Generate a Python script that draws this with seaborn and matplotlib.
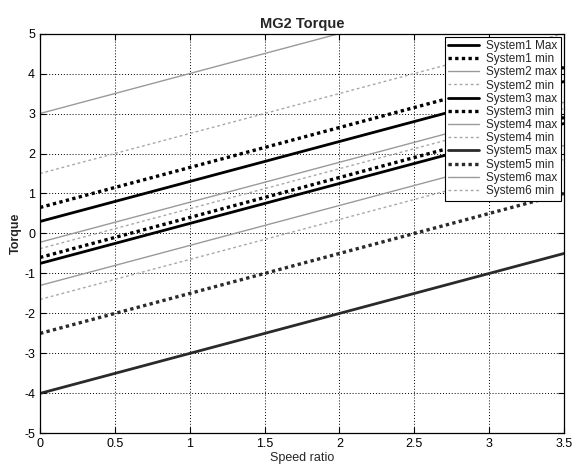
import pandas as pd
import matplotlib
matplotlib.use("Agg")
import matplotlib.pyplot as plt
import seaborn as sns

# 数据：各系统在 speed ratio = 0 和 3.5 处的扭矩
speed_ratio = [0.0, 3.5]
series_names = [
    'System1 Max', 'System1 min', 'System2 max', 'System2 min',
    'System3 max', 'System3 min', 'System4 max', 'System4 min',
    'System5 max', 'System5 min', 'System6 max', 'System6 min',
]
torque_start = [0.3, 0.65, 3.0, 1.5, -0.75, -0.6, -0.22, -0.38, -4.0, -2.5, -1.3, -1.65]
torque_end = [3.8, 4.15, 6.5, 5.0, 2.75, 2.9, 3.28, 3.12, -0.5, 1.0, 2.2, 1.85]

x_ticks = [0, 0.5, 1, 1.5, 2, 2.5, 3, 3.5]
y_ticks = [-5, -4, -3, -2, -1, 0, 1, 2, 3, 4, 5]

# 线型（颜色，线型，线宽）
line_styles = {
    'System1 Max': ('black', '-', 2.0),
    'System1 min': ('black', (0, (1, 1)), 2.4),
    'System2 max': ('#9a9a9a', '-', 1.0),
    'System2 min': ('#a8a8a8', (0, (2, 2)), 1.0),
    'System3 max': ('black', '-', 2.0),
    'System3 min': ('black', (0, (1, 1)), 2.4),
    'System4 max': ('#9a9a9a', '-', 1.0),
    'System4 min': ('#a8a8a8', (0, (2, 2)), 1.0),
    'System5 max': ('#2a2a2a', '-', 2.0),
    'System5 min': ('#2a2a2a', (0, (1, 1)), 2.4),
    'System6 max': ('#9a9a9a', '-', 1.0),
    'System6 min': ('#a8a8a8', (0, (2, 2)), 1.0),
}

rows = []
for name, y0, y1 in zip(series_names, torque_start, torque_end):
    rows.append({'series': name, 'speed_ratio': speed_ratio[0], 'torque': y0})
    rows.append({'series': name, 'speed_ratio': speed_ratio[1], 'torque': y1})
df = pd.DataFrame(rows)

sns.set_style("ticks")
plt.rcParams['font.family'] = ['Liberation Sans', 'DejaVu Sans']
plt.rcParams['axes.unicode_minus'] = False
plt.rcParams['xtick.direction'] = 'in'
plt.rcParams['ytick.direction'] = 'in'

fig = plt.figure(figsize=(5.72, 4.66), dpi=100)
ax = fig.add_axes([0.070, 0.070, 0.916, 0.858])

for name in series_names:
    color, ls, lw = line_styles[name]
    sub = df[df['series'] == name]
    sns.lineplot(data=sub, x='speed_ratio', y='torque', ax=ax, color=color,
                 linestyle=ls, linewidth=lw, label=name)

ax.set_xlim(0, 3.5)
ax.set_ylim(-5, 5)
ax.set_xticks(x_ticks)
ax.set_xticklabels([f'{t:g}' for t in x_ticks])
ax.set_yticks(y_ticks)
ax.grid(True, color='black', linestyle=(0, (1, 2)), linewidth=0.7)
ax.tick_params(labelsize=9, length=4, width=0.8, colors='black', top=True, right=True)
for sp in ax.spines.values():
    sp.set_color('black')
    sp.set_linewidth(0.9)

ax.set_title('MG2 Torque', fontsize=10.5, fontweight='bold', pad=4)
ax.set_xlabel('Speed ratio', fontsize=9, labelpad=1)
ax.set_ylabel('Torque', fontsize=9, fontweight='bold', labelpad=2)

leg = ax.legend(loc='upper right', fontsize=8.5, frameon=True, fancybox=False,
                edgecolor='black', framealpha=1, labelspacing=0.1,
                handlelength=2.6, borderpad=0.3, handletextpad=0.6,
                borderaxespad=0.25)
leg.get_frame().set_linewidth(0.8)

plt.savefig('out.png', dpi=100)
plt.close()
